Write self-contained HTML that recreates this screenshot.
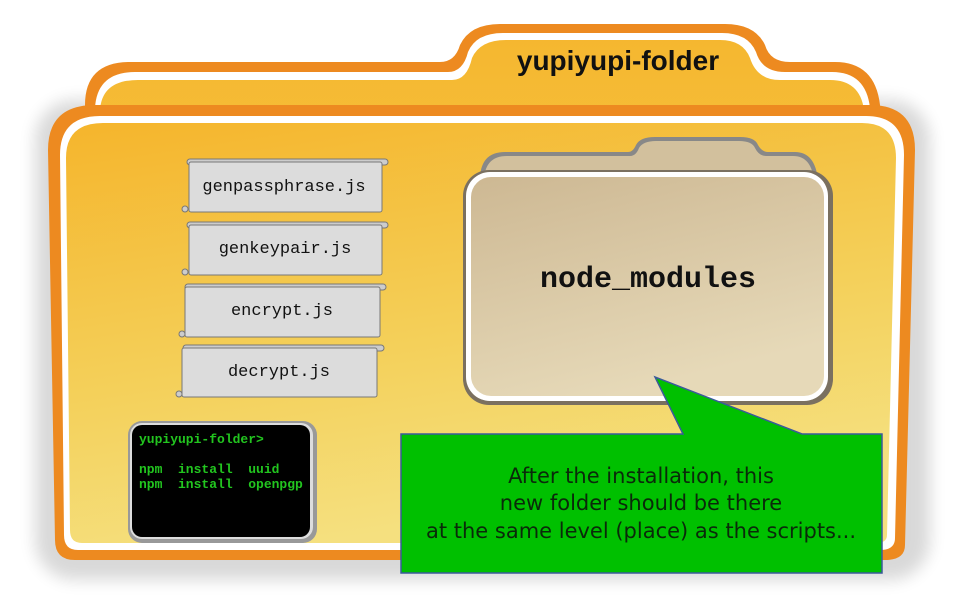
<!DOCTYPE html>
<html><head><meta charset="utf-8"><style>
html,body{margin:0;padding:0;background:#fff;width:960px;height:600px;overflow:hidden}
</style></head><body>
<svg width="960" height="600" viewBox="0 0 960 600" xmlns="http://www.w3.org/2000/svg">
<defs>
<linearGradient id="yb" x1="0" y1="0" x2="0" y2="1"><stop offset="0" stop-color="#f5b730"/><stop offset="1" stop-color="#f6c13c"/></linearGradient>
<linearGradient id="yf" x1="0" y1="0" x2="0.3" y2="1"><stop offset="0" stop-color="#f5b52c"/><stop offset="0.6" stop-color="#f4d05a"/><stop offset="1" stop-color="#f5e07f"/></linearGradient>
<linearGradient id="tb" x1="0" y1="0" x2="0.4" y2="1"><stop offset="0" stop-color="#cdb893"/><stop offset="1" stop-color="#e6d9b8"/></linearGradient>
<filter id="sh" x="-10%" y="-10%" width="120%" height="120%"><feGaussianBlur stdDeviation="8"/></filter>
</defs>
<rect x="35" y="100" width="895" height="480" rx="40" fill="#000" opacity="0.15" filter="url(#sh)"/>
<path d="M85,105 Q85,62 130,62 L440,62 Q455,62 460,45 Q470,24 500,24 L725,24 Q755,24 765,45 Q770,62 790,62 L835,62 Q875,62 880,105 L880,200 L85,200 Z" fill="#ed8a20"/>
<path d="M95,108 Q97,72 135,72 L448,72 Q463,72 468,52 Q476,33 503,33 L722,33 Q748,33 756,52 Q762,72 785,72 L832,72 Q866,72 870,108 L870,200 L95,200 Z" fill="#fff"/>
<path d="M100,110 Q102,80 138,80 L452,80 Q467,80 472,58 Q480,40 506,40 L720,40 Q743,40 750,58 Q757,80 780,80 L830,80 Q860,80 864,110 L864,200 L100,200 Z" fill="url(#yb)"/>
<text x="618" y="70" text-anchor="middle" font-family="Liberation Sans, sans-serif" font-weight="bold" font-size="28" fill="#111">yupiyupi-folder</text>
<path d="M48,150 Q48,105 95,105 L870,105 Q915,105 915,150 L905,545 Q905,560 885,560 L75,560 Q55,560 55,540 Z" fill="#ed8a20"/>
<path d="M60,155 Q60,116 100,116 L866,116 Q904,116 904,155 L895,538 Q895,550 880,550 L78,550 Q64,550 64,535 Z" fill="#fff"/>
<path d="M66,158 Q66,123 103,123 L862,123 Q896,123 896,158 L887,535 Q887,543 876,543 L82,543 Q70,543 70,530 Z" fill="url(#yf)"/>
<path d="M480,180 Q480,152 505,152 L628,152 Q633,152 636,145 Q640,137 655,137 L740,137 Q755,137 758,145 Q762,152 768,152 L795,152 Q815,152 818,180 L818,200 L480,200 Z" fill="#888" />
<path d="M484,182 Q484,156 507,156 L630,156 Q636,156 639,148 Q643,141 656,141 L739,141 Q752,141 755,148 Q759,156 766,156 L793,156 Q812,156 814,182 L814,200 L484,200 Z" fill="#d2c09d"/>
<rect x="463" y="170" width="370" height="235" rx="26" fill="#7a7060"/>
<rect x="466" y="172" width="362" height="229" rx="24" fill="#fff"/>
<rect x="471" y="177" width="353" height="219" rx="20" fill="url(#tb)"/>
<text x="648" y="287" text-anchor="middle" font-family="Liberation Mono, monospace" font-weight="bold" font-size="30" fill="#111">node_modules</text>
<g font-family="Liberation Mono, monospace" font-size="17" fill="#111" text-anchor="middle">
<g>
<rect x="187" y="159" width="201" height="6" rx="3" fill="#ccc" stroke="#777"/>
<rect x="189" y="162" width="193" height="50" rx="2" fill="#dcdcdc" stroke="#777"/>
<circle cx="185" cy="209" r="3" fill="#ccc" stroke="#777"/>
<text x="284" y="191">genpassphrase.js</text>
</g>
<g>
<rect x="187" y="222" width="201" height="6" rx="3" fill="#ccc" stroke="#777"/>
<rect x="189" y="225" width="193" height="50" rx="2" fill="#dcdcdc" stroke="#777"/>
<circle cx="185" cy="272" r="3" fill="#ccc" stroke="#777"/>
<text x="285" y="253">genkeypair.js</text>
</g>
<g>
<rect x="185" y="284" width="201" height="6" rx="3" fill="#ccc" stroke="#777"/>
<rect x="185" y="287" width="195" height="50" rx="2" fill="#dcdcdc" stroke="#777"/>
<circle cx="182" cy="334" r="3" fill="#ccc" stroke="#777"/>
<text x="282" y="315">encrypt.js</text>
</g>
<g>
<rect x="183" y="345" width="201" height="6" rx="3" fill="#ccc" stroke="#777"/>
<rect x="182" y="348" width="195" height="49" rx="2" fill="#dcdcdc" stroke="#777"/>
<circle cx="179" cy="394" r="3" fill="#ccc" stroke="#777"/>
<text x="279" y="376">decrypt.js</text>
</g>
</g>
<rect x="128" y="421" width="189" height="122" rx="14" fill="#999"/>
<rect x="130" y="423" width="183" height="116" rx="12" fill="#ddd"/>
<rect x="132" y="425" width="178" height="112" rx="10" fill="#000"/>
<g font-family="Liberation Mono, monospace" font-weight="bold" font-size="13" fill="#22c51f">
<text x="139" y="443">yupiyupi-folder&gt;</text>
<text x="139" y="473" xml:space="preserve">npm  install  uuid</text>
<text x="139" y="488" xml:space="preserve">npm  install  openpgp</text>
</g>
<path d="M401,434 L683,434 L655,377 L802,434 L882,434 L882,573 L401,573 Z" fill="#00c000" stroke="#3a5a9a" stroke-width="1.5"/>
<g font-family="DejaVu Sans, sans-serif" font-size="21" fill="#0a2a0a" text-anchor="middle">
<text x="641" y="483">After the installation, this</text>
<text x="641" y="510">new folder should be there</text>
<text x="641" y="538">at the same level (place) as the scripts...</text>
</g>
</svg>
</body></html>
